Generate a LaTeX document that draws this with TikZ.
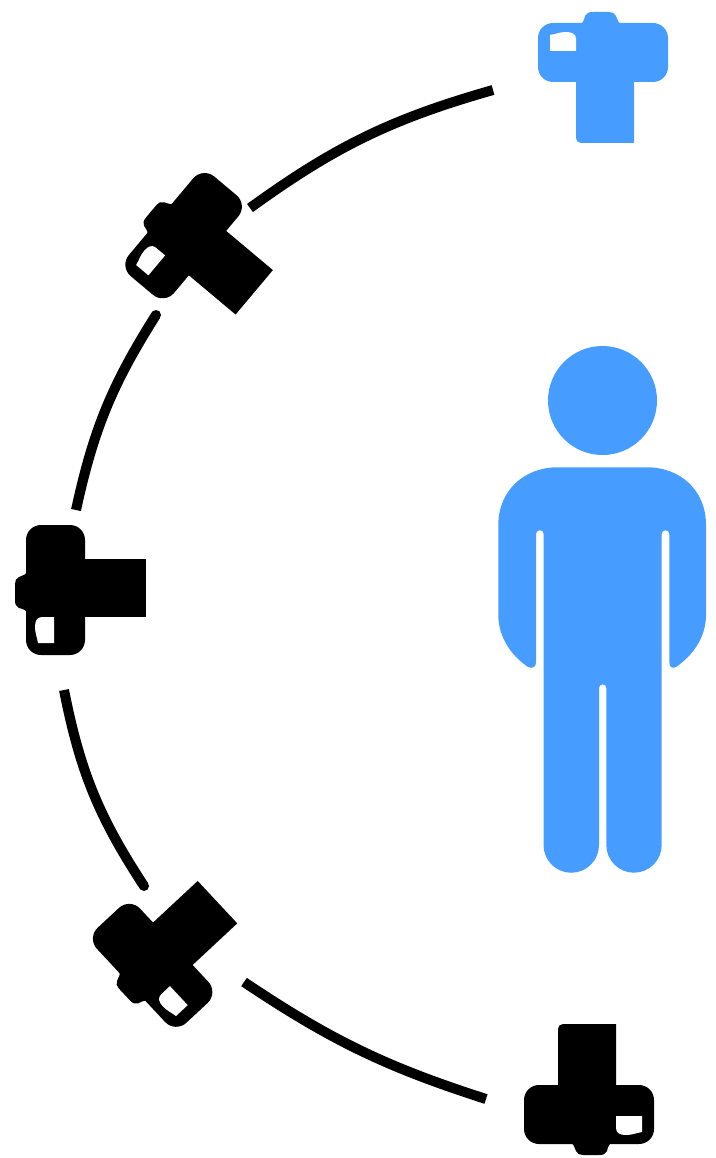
\documentclass[tikz,border=0pt]{standalone}
\usetikzlibrary{positioning}
\definecolor{personblue}{RGB}{70,157,255}
\tikzset{
    arcline/.style={line width=10pt, black},
    pics/camera/.style n args={2}{code={
        % hump
        \fill (-28,-22) .. controls (-28,-15) and (-33,-15) .. (-37,-13)
            .. controls (-40,-12) and (-41,-9) .. (-41,-6) -- (-41,10)
            .. controls (-41,14) and (-40,17) .. (-37,18)
            .. controls (-33,19) and (-28,20) .. (-28,26) -- cycle;
        % lens
        \fill (20,-31) [rounded corners=#1] -- (90,-31) [rounded corners=#2] -- (90,27) [sharp corners] -- (20,27) -- cycle;
        % body
        \fill[rounded corners=15pt] (-30,-65) rectangle (29,65);
        % screen
        \fill[white] (-2,27) -- (-2,53) -- (-18,53)
            .. controls (-19,47) and (-21,43) .. (-21,37)
            .. controls (-21,31) and (-19,27) .. (-14,27) -- cycle;
    }}
}
\begin{document}
\begin{tikzpicture}[x=1pt,y=-1pt]
    \useasboundingbox (0,0) rectangle (715,1158);

    % cameras
    \pic[personblue, rotate=-90] (camtop) at (603,53) {camera={0pt}{5pt}};
    \pic[rotate=-40] (camupper) at (184,236) {camera={0pt}{0pt}};
    \pic (cammiddle) at (56,590) {camera={0pt}{0pt}};
    \pic[rotate=43] (camlower) at (153,965) {camera={0pt}{0pt}};
    \pic[rotate=90] (cambottom) at (589,1114) {camera={5pt}{0pt}};

    % arc segments
    \coordinate (arcAa) at (493,90);
    \coordinate (arcAb) at (250,208);
    \coordinate (arcBa) at (156,315);
    \coordinate (arcBb) at (76,510);
    \coordinate (arcCa) at (64,690);
    \coordinate (arcCb) at (144,886);
    \coordinate (arcDa) at (244,982);
    \coordinate (arcDb) at (486,1099);
    \draw[arcline] (arcAa) to[bend right=10] (arcAb);
    \draw[arcline] (arcBa) to[bend right=10] (arcBb);
    \draw[arcline] (arcCa) to[bend right=11] (arcCb);
    \draw[arcline] (arcDa) to[bend right=8] (arcDb);
    \fill (arcBa) circle (5pt);
    \fill (arcCb) circle (5pt);

    % person
    \fill[personblue] (602.5,400.5) circle (54.5pt);
    \fill[personblue] (498.3,525)
        .. controls (498.3,490) and (525,467.3) .. (557,467.3) -- (647,467.3)
        .. controls (680,467.3) and (706,490) .. (706,525) -- (706,615)
        .. controls (706,638) and (692,656) .. (676,667)
        .. controls (672,669) and (669.3,667) .. (669.3,662)
        -- (669.3,534) arc (0:180:3.8pt)
        -- (661.7,845) arc (0:-180:27.7pt)
        -- (606.3,688) arc (0:180:3.65pt)
        -- (599,845) arc (0:-180:27.75pt)
        -- (543.7,534) arc (0:180:3.85pt)
        -- (536,662)
        .. controls (536,667) and (533,669) .. (528,667)
        .. controls (512,656) and (498.3,638) .. (498.3,615)
        -- cycle;
\end{tikzpicture}
\end{document}
